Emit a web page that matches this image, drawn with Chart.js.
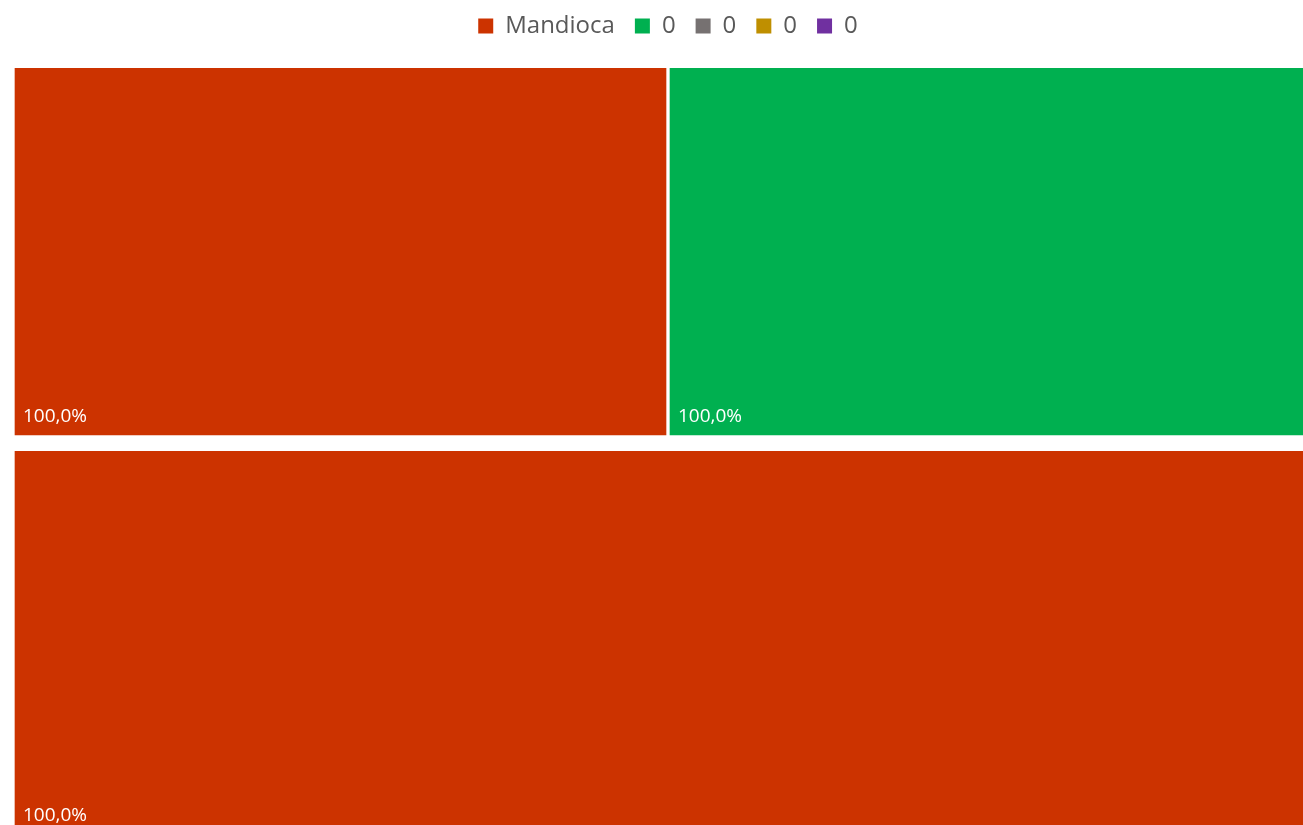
<!DOCTYPE html>
<html>
<head>
<meta charset="utf-8">
<script src="https://cdn.jsdelivr.net/npm/chart.js@4"></script>
<style>
  html, body { margin: 0; padding: 0; background: #fff; overflow: hidden; }
</style>
</head>
<body>
<canvas id="treemap" width="1323" height="834"></canvas>
<script>
// rows of the treemap (top row: two tiles, bottom row: one tile)
const rows = ['linha 1', 'linha 2'];

// series values per row
const mandioca = [50, 100];
const serieVerde = [50, 0];
const serieCinza = [0, 0];
const serieOuro = [0, 0];
const serieRoxo = [0, 0];

const seriesNames = ['Mandioca', '0', '0', '0', '0'];
const seriesColors = ['#CC3300', '#00B050', '#767171', '#BF8F00', '#7030A0'];

// labels printed in each tile
const mandiocaLabels = ['100,0%', '100,0%'];
const verdeLabels = ['100,0%', ''];

const allValues = [mandioca, serieVerde, serieCinza, serieOuro, serieRoxo];
const allLabels = [mandiocaLabels, verdeLabels, [], [], []];

// white gaps between tiles, bigger one under the top row
function tileBorder(ctx) {
    if (ctx.dataIndex === 0) {
        return {left: 2, right: 2, top: 0, bottom: 16};
    }
    return {left: 2, right: 2, top: 0, bottom: 0};
}

const tileLabels = {
    id: 'tileLabels',
    afterDatasetsDraw(chart) {
        const ctx = chart.ctx;
        ctx.save();
        ctx.font = '19px "Open Sans"';
        ctx.fillStyle = '#ffffff';
        ctx.textAlign = 'left';
        ctx.textBaseline = 'alphabetic';
        chart.data.datasets.forEach((ds, i) => {
            const meta = chart.getDatasetMeta(i);
            meta.data.forEach((bar, j) => {
                const txt = allLabels[i][j];
                if (!txt || !ds.data[j]) return;
                const left = Math.min(bar.base, bar.x) + 2;
                let bottom = bar.y + bar.height / 2;
                if (j === 0) bottom -= 16;
                ctx.fillText(txt, left + 8, bottom - 13);
            });
        });
        ctx.restore();
    }
};

const datasets = allValues.map((vals, i) => ({
    label: seriesNames[i],
    data: vals,
    backgroundColor: seriesColors[i],
    borderColor: '#ffffff',
    borderWidth: tileBorder,
    borderSkipped: false,
    categoryPercentage: 1,
    barPercentage: 1
}));

new Chart(document.getElementById('treemap').getContext('2d'), {
    type: 'bar',
    data: {
        labels: rows,
        datasets: datasets
    },
    options: {
        indexAxis: 'y',
        responsive: false,
        animation: false,
        layout: {
            padding: {left: 13, right: 0, top: -6, bottom: 0}
        },
        scales: {
            x: {
                stacked: true, min: 0, max: 100, position: 'top',
                ticks: {display: false},
                grid: {display: false, drawTicks: false},
                border: {display: false},
                afterFit(scale) { scale.height = 20; }
            },
            y: {stacked: true, display: false}
        },
        plugins: {
            tooltip: {enabled: false},
            legend: {
                position: 'top',
                labels: {
                    font: {family: '"Open Sans"', size: 24},
                    color: '#595959',
                    boxWidth: 15,
                    boxHeight: 15,
                    padding: 20,
                    generateLabels(chart) {
                        return Chart.defaults.plugins.legend.labels.generateLabels(chart)
                            .map(item => Object.assign(item, {lineWidth: 0, strokeStyle: item.fillStyle}));
                    }
                }
            }
        }
    },
    plugins: [tileLabels]
});
</script>
</body>
</html>
